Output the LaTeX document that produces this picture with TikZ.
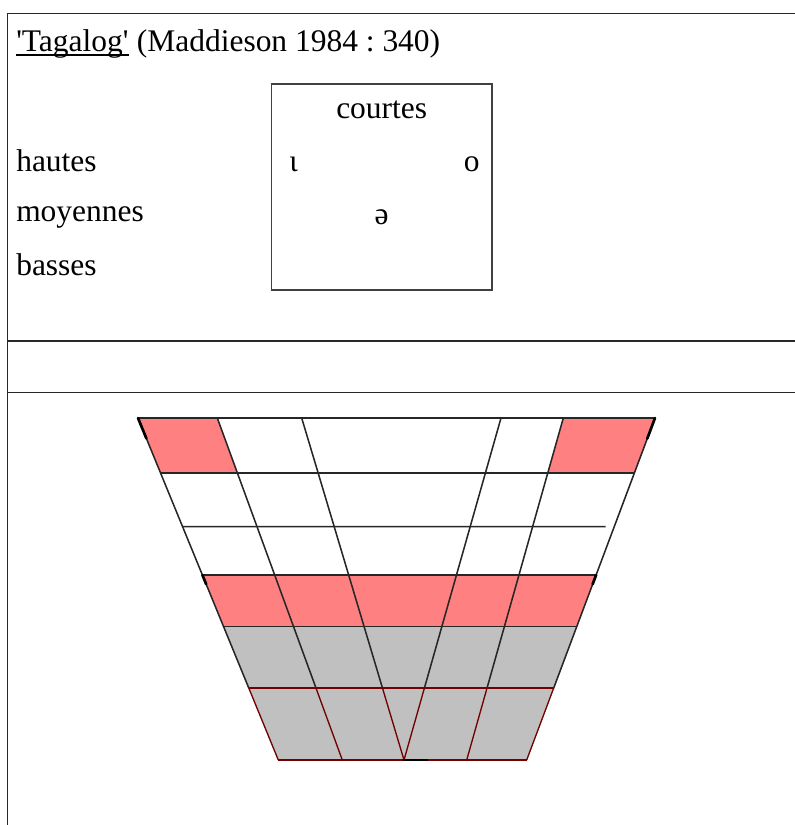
\documentclass[tikz,border=0pt]{standalone}
\usepackage{fontspec}
\setmainfont{Liberation Serif}[Ligatures=TeXOff]
\usepackage{xcolor}
\usetikzlibrary{calc,positioning}

\definecolor{cellpink}{RGB}{255,128,128}
\definecolor{cellgray}{RGB}{192,192,192}
\definecolor{framegray}{RGB}{40,40,40}

\begin{document}
\frenchspacing
\begin{tikzpicture}[x=0.75pt,y=-0.75pt,
    txt/.style={font=\fontsize{23.6}{28}\selectfont, inner sep=0pt, anchor=base west},
    vowel/.style={txt, anchor=base},
    frameline/.style={framegray, line width=1pt},
    gridline/.style={black!85, line width=1.15pt},
    redline/.style={red!45!black, line width=1pt},
    inkline/.style={black, line width=2pt, line cap=round}]
    \useasboundingbox (0,0) rectangle (795,825);

    % table frame
    \draw[frameline] (7.5,825) -- (7.5,13.3) -- (795,13.3);
    \draw[frameline] (7.5,341) -- (795,341);
    \draw[frameline] (7.5,392.5) -- (795,392.5);

    % title
    \node[txt] (tag) at (16,51.7) {'Tagalog'};
    \node[txt, right=5.9pt of tag.base east, anchor=base west] (src) {(Maddieson 1984 : 340)};
    \draw[black, line width=1.3pt] ($(tag.base west)+(0,3.5)$) -- ($(tag.base east)+(0,3.5)$);

    % heights
    \node[txt] (haut) at (16,171.7) {hautes};
    \node[txt] (moy) at (16,221.7) {moyennes};
    \node[txt] (bas) at (16,275) {basses};

    % vowel box
    \draw[black!75, line width=0.8pt] (271.7,84) rectangle (492,290);
    \node[vowel] (court) at (381.7,118) {courtes};
    \node[vowel] (iota) at (293.7,171.7) {ɩ};
    \node[vowel] (oo) at (471.7,171.7) {o};
    \node[vowel] (schwa) at (381.7,224) {ə};

    % grid points: column / row
    \foreach \c/\xt/\xb in {0/138/278.3, 1/217.3/342.3, 2/301.7/404,
                           3/501/404, 4/563.3/466.7, 5/655/526.7}
        \foreach \r/\t in {0/0, 1/0.1608, 2/0.3173, 3/0.459, 4/0.6096, 5/0.7895, 6/1}
            \coordinate (g\c\r) at ($(\xt,418)!\t!(\xb,760)$);

    % cells
    \fill[cellpink] (g00) -- (g10) -- (g11) -- (g01) -- cycle;
    \fill[cellpink] (g40) -- (g50) -- (g51) -- (g41) -- cycle;
    \fill[cellpink] (g03) -- (g53) -- (g54) -- (g04) -- cycle;
    \fill[cellgray] (g04) -- (g54) -- (g56) -- (g06) -- cycle;

    % rows
    \foreach \r in {0,1,3,4}
        \draw[gridline] (g0\r) -- (g5\r);
    \draw[gridline] (g02) -- ($(g02)!0.98!(g52)$);
    \draw[redline] (g05) -- (g55);
    \draw[redline] (g06) -- (g56);

    % columns
    \foreach \c in {0,...,5}{
        \draw[gridline] (g\c0) -- (g\c5);
        \draw[redline] (g\c5) -- (g\c6);
    }

    % heavier strokes
    \draw[inkline] (g00) -- ($(g00)!0.06!(g06)$);
    \draw[inkline] (g50) -- ($(g50)!0.06!(g56)$);
    \draw[inkline] (g03) -- ($(g03)!0.05!(g06)$);
    \draw[inkline] (g53) -- ($(g53)!0.05!(g56)$);
    \draw[inkline] (g26) -- ++(23,0);
\end{tikzpicture}
\end{document}
